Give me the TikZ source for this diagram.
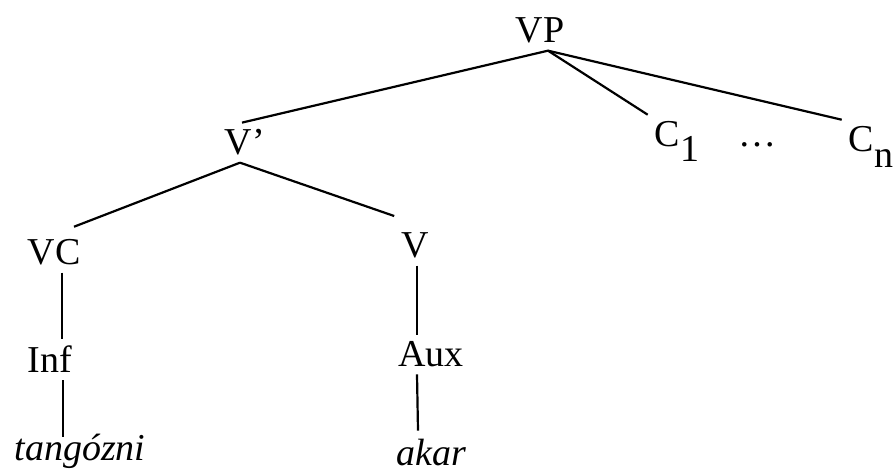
\documentclass[tikz,border=0pt]{standalone}
\usepackage{fontspec}
\setmainfont{Liberation Serif}
\tikzstyle{cat}=[inner sep=3pt,anchor=base,font=\fontsize{19}{22}\selectfont]
\tikzstyle{word}=[inner sep=2pt,anchor=base,font=\fontsize{19}{22}\selectfont\itshape]
\tikzstyle{none}=[]
\begin{document}
\begin{tikzpicture}[x=0.5pt, y=0.5pt, line width=1.1pt]
    \useasboundingbox (0, 0) rectangle (894, 475);
    \node [style=cat] (vp) at (540, 432) {VP};
    \node [style=cat] (vbar) at (245, 320) {V'};
    \node [style=cat] (c1) at (677, 328) {C\raisebox{-7.5pt}{1}};
    \node [style=cat] (dots) at (757, 328) {\dots};
    \node [style=cat] (cn) at (871, 323) {C\raisebox{-8pt}{n}};
    \node [style=cat] (vc) at (54, 210) {VC};
    \node [style=cat] (v) at (415, 217) {V};
    \node [style=cat] (inf) at (50, 102) {Inf};
    \node [style=cat] (aux) at (431, 108) {Aux};
    \node [style=word] (tango) at (80, 14) {tangózni};
    \node [style=word] (akar) at (431, 9) {akar};
    \draw ([xshift=4pt]vp.south) to ([xshift=-1.5pt]vbar.north);
    \draw ([xshift=4pt]vp.south) to (c1.north west);
    \draw ([xshift=4pt]vp.south) to (cn.north west);
    \draw ([xshift=-2.5pt]vbar.south) to ([xshift=10pt,yshift=3pt]vc.north);
    \draw ([xshift=-2.5pt]vbar.south) to ([yshift=5pt]v.north west);
    \draw ([xshift=4pt]vc.south) to ([xshift=6pt]inf.north);
    \draw ([xshift=1pt]v.south) to ([xshift=-7pt]aux.north);
    \draw ([xshift=6.5pt]inf.south) to ([xshift=-8.5pt,yshift=-4pt]tango.north);
    \draw ([xshift=-7pt]aux.south) to ([xshift=-6.5pt,yshift=2pt]akar.north);
\end{tikzpicture}
\end{document}
